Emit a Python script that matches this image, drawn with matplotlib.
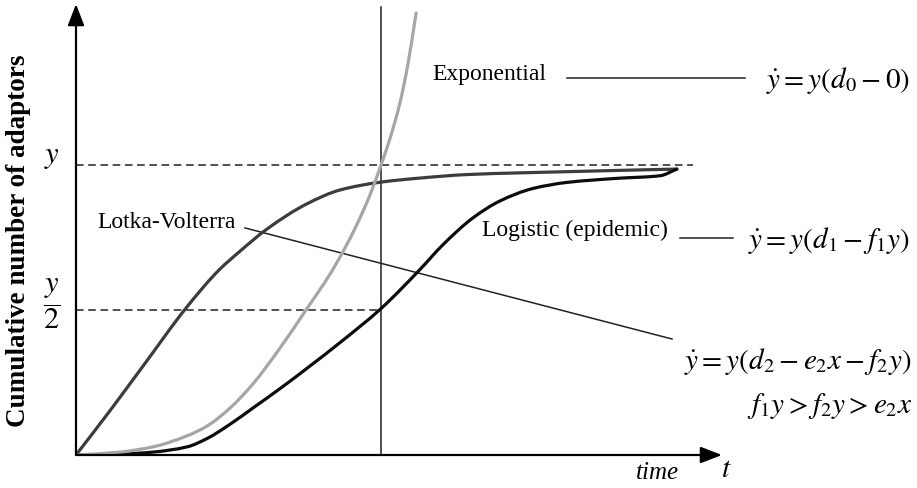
import matplotlib
matplotlib.use("Agg")
import matplotlib.pyplot as plt
from matplotlib.path import Path
from matplotlib.patches import PathPatch

plt.rcParams["font.family"] = ["Liberation Serif", "DejaVu Serif"]
plt.rcParams["mathtext.fontset"] = "stix"

# Time in units of the marked instant (vertical line at t = 1);
# adoption in units of the saturation level y.
lotka_t = [0.0, 0.108, 0.220, 0.361, 0.469, 0.538, 0.626, 0.757, 0.866, 1.0, 1.128, 1.282, 1.610, 1.970]
lotka_v = [0.0, 0.148, 0.307, 0.507, 0.638, 0.703, 0.779, 0.866, 0.914, 0.941, 0.955, 0.967, 0.977, 0.986]

expo_t = [0.0, 0.144, 0.252, 0.364, 0.430, 0.505, 0.580, 0.669, 0.754, 0.833, 0.882,
          0.921, 0.964, 1.0, 1.030, 1.062, 1.089, 1.115]
expo_v = [0.0, 0.010, 0.028, 0.066, 0.100, 0.162, 0.245, 0.369, 0.500, 0.624, 0.714,
          0.795, 0.897, 1.0, 1.093, 1.214, 1.352, 1.524]

logis_t = [0.0, 0.144, 0.252, 0.364, 0.430, 0.505, 0.580, 0.669, 0.866, 1.0, 1.128,
           1.203, 1.302, 1.390, 1.498, 1.610, 1.774, 1.915, 1.970]
logis_v = [0.0, 0.003, 0.010, 0.028, 0.057, 0.106, 0.162, 0.229, 0.388, 0.505, 0.640,
           0.725, 0.818, 0.876, 0.919, 0.940, 0.954, 0.963, 0.986]

saturation = 1.0
half = 0.5
marked_time = 1.0

y_label = "Cumulative number of adaptors"
eq_exp = r"$\dot{y} = y(d_0 - 0)$"
eq_log = r"$\dot{y} = y(d_1 - f_1 y)$"
eq_lv = r"$\dot{y} = y(d_2 - e_2 x - f_2 y)$"
eq_cond = r"$f_1 y > f_2 y > e_2 x$"


def smooth_path(xs, ys):
    """Monotone cubic (Fritsch-Carlson) curve through the points, as Bezier segments."""
    n = len(xs)
    h = [xs[i + 1] - xs[i] for i in range(n - 1)]
    d = [(ys[i + 1] - ys[i]) / h[i] for i in range(n - 1)]
    m = [0.0] * n
    m[0] = d[0]
    m[-1] = d[-1]
    for i in range(1, n - 1):
        if d[i - 1] * d[i] <= 0:
            m[i] = 0.0
        else:
            w1 = 2 * h[i] + h[i - 1]
            w2 = h[i] + 2 * h[i - 1]
            m[i] = (w1 + w2) / (w1 / d[i - 1] + w2 / d[i])
    verts = [(xs[0], ys[0])]
    codes = [Path.MOVETO]
    for i in range(n - 1):
        c1 = (xs[i] + h[i] / 3, ys[i] + m[i] * h[i] / 3)
        c2 = (xs[i + 1] - h[i] / 3, ys[i + 1] - m[i + 1] * h[i] / 3)
        verts += [c1, c2, (xs[i + 1], ys[i + 1])]
        codes += [Path.CURVE4] * 3
    return Path(verts, codes)


fig = plt.figure(figsize=(9.17, 4.88), dpi=100)
ax = fig.add_axes([76 / 917, 33 / 488, 646 / 917, 449.5 / 488])
ax.set_xlim(0, 2.118)
ax.set_ylim(0, 1.55)
ax.axis("off")

# curves
for xs, ys, col, z in [(lotka_t, lotka_v, "#3c3c3c", 3),
                       (logis_t, logis_v, "#0d0d0d", 4),
                       (expo_t, expo_v, "#a6a6a6", 5)]:
    ax.add_patch(PathPatch(smooth_path(xs, ys), facecolor="none",
                           edgecolor=col, lw=2.3, zorder=z,
                           capstyle="round", joinstyle="round"))

# reference lines
ax.plot([0, 2.023], [saturation, saturation], color="#222222", lw=1.1,
        dashes=(5, 3), zorder=2)
ax.plot([0, marked_time], [half, half], color="#222222", lw=1.1,
        dashes=(5, 3), zorder=2)
ax.plot([marked_time, marked_time], [0, 1.545], color="#222222", lw=1.1, zorder=2)

# axes with arrows
arrow = dict(arrowstyle="-|>,head_length=1.3,head_width=0.5", lw=1.6,
             color="black", shrinkA=0, shrinkB=0)
ax.annotate("", xy=(0, 1.555), xytext=(0, 0), arrowprops=arrow,
            annotation_clip=False, zorder=6)
ax.annotate("", xy=(2.118, 0), xytext=(0, 0), arrowprops=arrow,
            annotation_clip=False, zorder=6)

# leader lines
ax.plot([1.610, 2.193], [1.300, 1.300], color="#222222", lw=1.1, clip_on=False)
ax.plot([1.980, 2.154], [0.748, 0.748], color="#222222", lw=1.1, clip_on=False)
ax.plot([0.554, 1.954], [0.783, 0.400], color="#222222", lw=1.1, clip_on=False)

# labels
fs = 17
ax.text(1.170, 1.312, "Exponential", fontsize=fs, ha="left", va="center")
ax.text(0.069, 0.800, "Lotka-Volterra", fontsize=fs, ha="left", va="center")
ax.text(1.331, 0.776, "Logistic (epidemic)", fontsize=fs, ha="left", va="center")

efs = 21
ax.text(2.734, 1.290, eq_exp, fontsize=efs, ha="right", va="center", clip_on=False)
ax.text(2.734, 0.740, eq_log, fontsize=efs, ha="right", va="center", clip_on=False)
ax.text(2.741, 0.324, eq_lv, fontsize=efs, ha="right", va="center", clip_on=False)
ax.text(2.744, 0.170, eq_cond, fontsize=efs, ha="right", va="center", clip_on=False)

ax.text(1.905, -0.062, "time", fontsize=18, style="italic", ha="center", va="center")
ax.text(2.133, -0.052, r"$t$", fontsize=21, ha="center", va="center")

ax.text(-0.079, 1.03, r"$y$", fontsize=22, ha="center", va="center")
ax.text(-0.079, 0.52, r"$\dfrac{y}{2}$", fontsize=22, ha="center", va="center")

ax.text(-0.19, 0.74, y_label, fontsize=19.5, fontweight="bold", rotation=90,
        ha="center", va="center")

fig.savefig("out.png", dpi=100)
